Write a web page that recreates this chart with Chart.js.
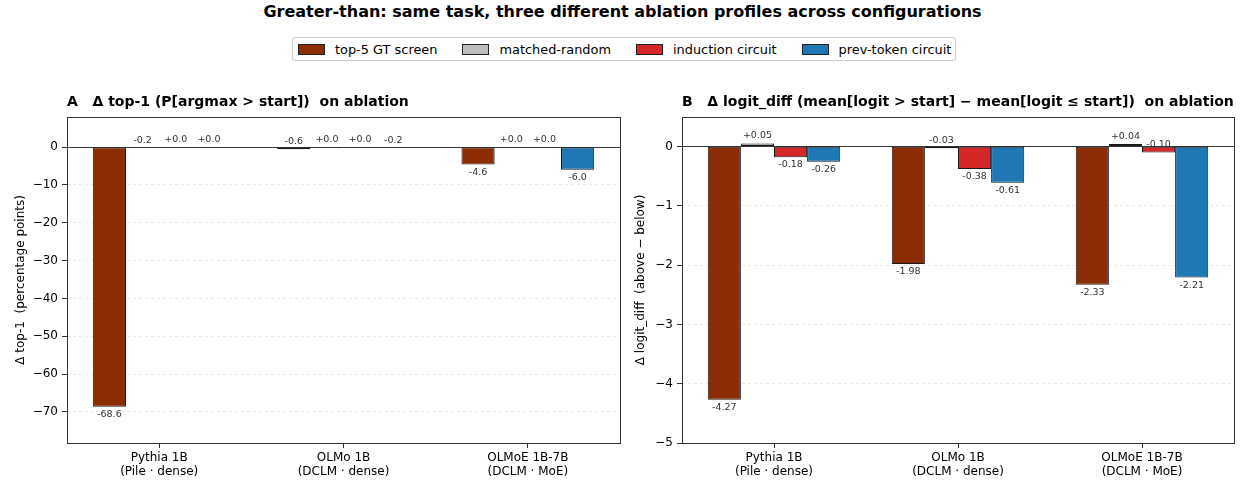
<!DOCTYPE html>
<html>
<head>
<meta charset="utf-8">
<script src="https://cdn.jsdelivr.net/npm/chart.js@4/dist/chart.umd.min.js"></script>
<style>
  html, body { margin: 0; padding: 0; background: #fff; }
  body { width: 1251px; height: 480px; position: relative; overflow: hidden; font-family: 'DejaVu Sans', sans-serif; }
  #title { position: absolute; left: 0; top: 2px; width: 1245px; text-align: center; font-weight: bold; font-size: 16px; color: #000; }
  #legend { position: absolute; top: 37px; left: 292px; height: 22px; border: 1px solid #ccc; border-radius: 3px;
            display: flex; align-items: center; padding: 0 4px 0 5px; font-size: 12.9px; color: #000; background: #fff; }
  #legend .item { display: flex; align-items: center; margin-right: 25px; }
  #legend .item:last-child { margin-right: 0; }
  #legend .sw { width: 25px; height: 9px; border: 1px solid #222; margin-right: 10px; }
  canvas { position: absolute; top: 0; }
</style>
</head>
<body>
<div id="title">Greater-than: same task, three different ablation profiles across configurations</div>
<div id="legend"></div>
<canvas id="chartA" width="632" height="480" style="left:0;width:632px;height:480px"></canvas>
<canvas id="chartB" width="631" height="480" style="left:620px;width:631px;height:480px"></canvas>
<script>
// ── Data ─────────────────────────────────────────────────────────
const categories = [['Pythia 1B', '(Pile · dense)'], ['OLMo 1B', '(DCLM · dense)'], ['OLMoE 1B-7B', '(DCLM · MoE)']];
const seriesNames = ['top-5 GT screen', 'matched-random', 'induction circuit', 'prev-token circuit'];
const seriesColors = ['#8b2c02', '#bdbdbd', '#d62728', '#1f77b4'];

// panel A: Δ top-1 (percentage points)
const top1Screen    = [-68.6, -0.6, -4.6];
const top1Random    = [-0.2, 0.0, 0.0];
const top1Induction = [0.0, 0.0, 0.0];
const top1PrevToken = [0.0, -0.2, -6.0];
const top1Ticks = [0, -10, -20, -30, -40, -50, -60, -70];
const top1Range = [-78.2, 8];

// panel B: Δ logit_diff
const logitScreen    = [-4.27, -1.98, -2.33];
const logitRandom    = [0.05, -0.03, 0.04];
const logitInduction = [-0.18, -0.38, -0.10];
const logitPrevToken = [-0.26, -0.61, -2.21];
const logitTicks = [0, -1, -2, -3, -4, -5];
const logitRange = [-5, 0.5];

const FONT = "'DejaVu Sans', sans-serif";

// ── Legend (shared) ──────────────────────────────────────────────
const legendEl = document.getElementById('legend');
seriesNames.forEach((name, i) => {
  const item = document.createElement('div');
  item.className = 'item';
  item.innerHTML = '<div class="sw" style="background:' + seriesColors[i] + '"></div><span>' + name + '</span>';
  legendEl.appendChild(item);
});

// ── Plugins ──────────────────────────────────────────────────────
const framePlugin = {
  id: 'frame',
  beforeDatasetsDraw(chart) {
    const { ctx, chartArea: a, scales: { y } } = chart;
    const y0 = Math.round(y.getPixelForValue(0)) + 0.5;
    ctx.save();
    ctx.strokeStyle = '#222';
    ctx.lineWidth = 0.9;
    ctx.beginPath();
    ctx.moveTo(a.left, y0);
    ctx.lineTo(a.right, y0);
    ctx.stroke();
    ctx.restore();
  },
  afterDraw(chart) {
    const { ctx, chartArea: a } = chart;
    ctx.save();
    ctx.strokeStyle = '#333';
    ctx.lineWidth = 1;
    ctx.strokeRect(Math.round(a.left) + 0.5, Math.round(a.top) + 0.5,
                   Math.round(a.right - a.left), Math.round(a.bottom - a.top));
    ctx.restore();
  }
};

const barLabelPlugin = {
  id: 'barLabels',
  afterDatasetsDraw(chart, args, opts) {
    const { ctx, scales: { y } } = chart;
    const zero = y.getPixelForValue(0);
    ctx.save();
    ctx.font = '9.5px ' + FONT;
    ctx.fillStyle = '#333';
    ctx.textAlign = 'center';
    ctx.textBaseline = 'middle';
    chart.data.datasets.forEach((ds, di) => {
      chart.getDatasetMeta(di).data.forEach((bar, i) => {
        const v = ds.data[i];
        const py = y.getPixelForValue(v);
        const txt = v >= 0 ? '+' + v.toFixed(opts.decimals) : v.toFixed(opts.decimals);
        const above = v >= 0 || Math.abs(py - zero) < 8;
        ctx.fillText(txt, bar.x, above ? py - 7.5 : py + 7.8);
      });
    });
    ctx.restore();
  }
};

// ── Chart builder ────────────────────────────────────────────────
function fmtTick(v) {
  return v < 0 ? '\u2212' + Math.abs(v) : String(v);
}

function buildPanel(canvasId, title, yTitle, series, ticks, range, decimals, axisWidth, padRight) {
  const ctx = document.getElementById(canvasId);
  new Chart(ctx, {
    type: 'bar',
    data: {
      labels: categories,
      datasets: series.map((data, i) => ({
        label: seriesNames[i],
        data,
        backgroundColor: seriesColors[i],
        borderColor: '#1a1a1a',
        borderWidth: 1,
        borderSkipped: false,
        categoryPercentage: 0.72,
        barPercentage: 1.0,
      })),
    },
    plugins: [framePlugin, barLabelPlugin],
    options: {
      responsive: false,
      animation: false,
      layout: { padding: { top: 94, right: padRight, bottom: 0, left: 0 } },
      plugins: {
        legend: { display: false },
        tooltip: { enabled: false },
        title: {
          display: true,
          text: title,
          align: 'start',
          fullSize: false,
          color: '#000',
          font: { family: FONT, size: 14, weight: 'bold', lineHeight: 1.2 },
          padding: { top: 0, bottom: 6 },
        },
        barLabels: { decimals },
      },
      scales: {
        x: {
          grid: { display: true, drawOnChartArea: false, offset: false, tickLength: 5, tickColor: '#333', tickWidth: 1 },
          border: { display: false },
          ticks: { color: '#000', padding: 3, maxRotation: 0, autoSkip: false, font: { family: FONT, size: 12, lineHeight: 1.15 } },
          afterFit(scale) { scale.height = 37; },
        },
        y: {
          min: range[0],
          max: range[1],
          grid: { color: '#e2e2e2', lineWidth: 0.8, tickLength: 5, tickColor: '#333', tickWidth: 1, tickBorderDash: [] },
          border: { display: false, dash: [3, 3] },
          ticks: { color: '#000', padding: 4, includeBounds: false, font: { family: FONT, size: 12 }, callback: fmtTick },
          afterBuildTicks(scale) { scale.ticks = ticks.map(v => ({ value: v })); },
          afterFit(scale) { scale.width = axisWidth; },
          title: { display: true, text: yTitle, color: '#000', padding: { top: 14, bottom: 0 }, font: { family: FONT, size: 12 } },
        },
      },
    },
  });
}

buildPanel('chartA', 'A   \u0394 top-1 (P[argmax > start])  on ablation', '\u0394 top-1  (percentage points)',
  [top1Screen, top1Random, top1Induction, top1PrevToken], top1Ticks, top1Range, 1, 67, 12);

buildPanel('chartB', 'B   \u0394 logit_diff (mean[logit > start] \u2212 mean[logit \u2264 start])  on ablation', '\u0394 logit_diff  (above \u2212 below)',
  [logitScreen, logitRandom, logitInduction, logitPrevToken], logitTicks, logitRange, 2, 62, 17);
</script>
</body>
</html>
